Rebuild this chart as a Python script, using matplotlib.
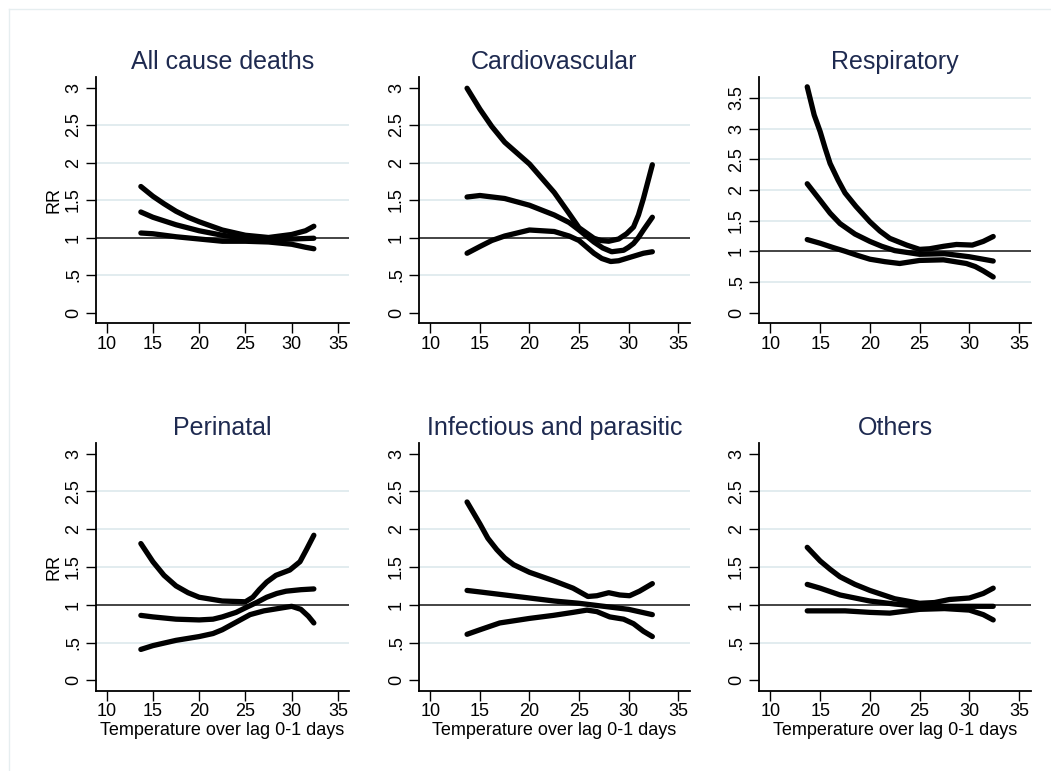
import matplotlib
matplotlib.use("Agg")
import matplotlib.pyplot as plt
from matplotlib.lines import Line2D

plt.rcParams["font.family"] = ["Liberation Sans", "DejaVu Sans"]

titles = ["All cause deaths", "Cardiovascular", "Respiratory",
          "Perinatal", "Infectious and parasitic", "Others"]

# each curve: (temperature knots, RR values)
# All cause deaths
all_up_x = [13.7, 15, 16.2, 17.5, 18.8, 20, 22.5, 25, 27.5, 30, 31.5, 32.4]
all_up_y = [1.68, 1.55, 1.45, 1.35, 1.27, 1.21, 1.10, 1.03, 1.00, 1.04, 1.09, 1.15]
all_mid_x = [13.7, 15, 17.5, 20, 22.5, 25, 27.5, 30, 32.4]
all_mid_y = [1.34, 1.27, 1.17, 1.09, 1.03, 0.99, 0.97, 0.98, 0.99]
all_lo_x = [13.7, 15, 17.5, 20, 22.5, 25, 27.5, 30, 31.5, 32.4]
all_lo_y = [1.06, 1.05, 1.01, 0.98, 0.95, 0.95, 0.94, 0.91, 0.87, 0.85]

# Cardiovascular
cv_up_x = [13.7, 15, 16.2, 17.5, 20, 22.5, 24, 25, 26.5, 27.2, 28, 29, 29.8, 30.5, 31, 31.5, 32.4]
cv_up_y = [2.99, 2.71, 2.48, 2.27, 1.98, 1.60, 1.32, 1.13, 0.99, 0.96, 0.95, 0.98, 1.05, 1.14, 1.30, 1.52, 1.97]
cv_mid_x = [13.7, 15, 17.5, 20, 22.5, 24, 25, 26.5, 27.4, 28.3, 29.5, 30, 30.5, 31, 31.5, 32.4]
cv_mid_y = [1.54, 1.56, 1.52, 1.43, 1.30, 1.20, 1.10, 0.94, 0.86, 0.81, 0.83, 0.87, 0.92, 1.00, 1.10, 1.27]
cv_lo_x = [13.7, 15, 16.2, 17.5, 20, 22.5, 24, 25, 26.5, 27.3, 28.2, 29, 29.5, 30.5, 31.5, 32.4]
cv_lo_y = [0.79, 0.88, 0.96, 1.02, 1.10, 1.08, 1.02, 0.96, 0.79, 0.72, 0.68, 0.69, 0.71, 0.75, 0.79, 0.81]

# Respiratory
resp_up_x = [13.7, 14.4, 15, 15.5, 16, 16.8, 17.5, 18.6, 20, 21, 22, 23.7, 25, 26, 27.4, 28.7, 30.3, 31.4, 32.4]
resp_up_y = [3.68, 3.22, 2.95, 2.68, 2.43, 2.16, 1.95, 1.73, 1.48, 1.33, 1.21, 1.10, 1.03, 1.04, 1.08, 1.11, 1.10, 1.16, 1.24]
resp_mid_x = [13.7, 15, 16, 17, 18.5, 20, 21.2, 22.5, 25, 27.5, 30, 32.4]
resp_mid_y = [2.10, 1.83, 1.62, 1.45, 1.28, 1.16, 1.08, 1.01, 0.95, 0.96, 0.91, 0.84]
resp_lo_x = [13.7, 15, 16.3, 17.5, 18.8, 20, 21.5, 23, 25, 27.4, 29.7, 30.6, 31.4, 32.4]
resp_lo_y = [1.19, 1.13, 1.06, 1.00, 0.93, 0.87, 0.83, 0.80, 0.85, 0.86, 0.80, 0.75, 0.68, 0.58]

# Perinatal
peri_up_x = [13.7, 15, 16.2, 17.5, 18.8, 20, 22.5, 25, 25.8, 26.5, 27.3, 28.3, 29.8, 30.9, 31.6, 32.4]
peri_up_y = [1.81, 1.57, 1.39, 1.25, 1.16, 1.10, 1.05, 1.04, 1.10, 1.20, 1.30, 1.39, 1.46, 1.57, 1.73, 1.92]
peri_mid_x = [13.7, 15, 17.5, 20, 21.5, 22.5, 24, 25, 26.2, 27.3, 28.4, 29.4, 31, 32.4]
peri_mid_y = [0.86, 0.84, 0.81, 0.80, 0.81, 0.84, 0.90, 0.96, 1.03, 1.10, 1.15, 1.18, 1.20, 1.21]
peri_lo_x = [13.7, 15, 17.5, 20, 21.5, 22.5, 24, 25.5, 27, 29, 30, 31, 31.8, 32.4]
peri_lo_y = [0.41, 0.46, 0.53, 0.58, 0.62, 0.67, 0.77, 0.87, 0.92, 0.96, 0.98, 0.94, 0.85, 0.76]

# Infectious and parasitic
inf_up_x = [13.7, 15, 15.8, 16.7, 17.5, 18.4, 20, 22.4, 24.4, 25.9, 26.8, 28, 29.1, 30.1, 31.1, 32.4]
inf_up_y = [2.36, 2.07, 1.88, 1.73, 1.62, 1.53, 1.43, 1.32, 1.22, 1.11, 1.12, 1.16, 1.13, 1.12, 1.18, 1.28]
inf_mid_x = [13.7, 15, 17.5, 20, 22.5, 25, 27.5, 30, 32.4]
inf_mid_y = [1.19, 1.17, 1.13, 1.09, 1.05, 1.02, 0.98, 0.94, 0.87]
inf_lo_x = [13.7, 15, 17, 20, 22.4, 24.4, 25.8, 26.8, 28.1, 29.5, 30.5, 31.5, 32.4]
inf_lo_y = [0.61, 0.67, 0.76, 0.82, 0.86, 0.90, 0.93, 0.91, 0.84, 0.81, 0.75, 0.65, 0.58]

# Others
oth_up_x = [13.7, 15, 16, 17, 18.5, 20, 22.5, 25, 26.5, 28, 30, 31.4, 32.4]
oth_up_y = [1.76, 1.58, 1.47, 1.37, 1.27, 1.19, 1.08, 1.02, 1.03, 1.07, 1.09, 1.15, 1.22]
oth_mid_x = [13.7, 15, 17, 20, 22.5, 25, 27.5, 30, 32.4]
oth_mid_y = [1.27, 1.22, 1.13, 1.05, 1.01, 0.98, 0.98, 0.98, 0.98]
oth_lo_x = [13.7, 15, 17.5, 20, 22, 25, 27.5, 30, 31.4, 32.4]
oth_lo_y = [0.92, 0.92, 0.92, 0.90, 0.89, 0.94, 0.95, 0.93, 0.87, 0.80]

curves = [
    [(all_up_x, all_up_y), (all_mid_x, all_mid_y), (all_lo_x, all_lo_y)],
    [(cv_up_x, cv_up_y), (cv_mid_x, cv_mid_y), (cv_lo_x, cv_lo_y)],
    [(resp_up_x, resp_up_y), (resp_mid_x, resp_mid_y), (resp_lo_x, resp_lo_y)],
    [(peri_up_x, peri_up_y), (peri_mid_x, peri_mid_y), (peri_lo_x, peri_lo_y)],
    [(inf_up_x, inf_up_y), (inf_mid_x, inf_mid_y), (inf_lo_x, inf_lo_y)],
    [(oth_up_x, oth_up_y), (oth_mid_x, oth_mid_y), (oth_lo_x, oth_lo_y)],
]

x_ticks = [10, 15, 20, 25, 30, 35]
y_ticks_std = [0, 0.5, 1, 1.5, 2, 2.5, 3]
y_ticks_resp = [0, 0.5, 1, 1.5, 2, 2.5, 3, 3.5]


def fmt(v):
    s = ("%g" % v)
    return s[1:] if s.startswith("0.") else s


W, H = 1051, 771
fig = plt.figure(figsize=(W / 100, H / 100), dpi=100)

# axes boxes in pixels: left, right, top, bottom
boxes = [(96, 349, 77, 323), (419, 690, 77, 323), (759, 1031, 77, 323),
         (96, 349, 443, 691), (419, 690, 443, 691), (759, 1031, 443, 691)]

# faint outer graph-region border
fig.add_artist(Line2D([9 / W, 1], [1 - 9 / H, 1 - 9 / H], color="#e6eef0", lw=1))
fig.add_artist(Line2D([9 / W, 9 / W], [0, 1 - 9 / H], color="#e6eef0", lw=1))

title_color = "#1e2a50"
grid_color = "#dde9ec"

for i, (l, r, t, b) in enumerate(boxes):
    ax = fig.add_axes([l / W, 1 - b / H, (r - l) / W, (b - t) / H])
    yt = y_ticks_resp if i == 2 else y_ticks_std
    ax.set_xlim(8.85, 36.2)
    if i == 2:
        ax.set_ylim(-0.17, 3.84)
    else:
        ax.set_ylim(-0.14, 3.14)

    for v in yt:
        if v == 0 or v == 1 or (i != 2 and v == 3):
            continue
        ax.axhline(v, color=grid_color, lw=1.2, zorder=0)
    ax.axhline(1, color="#111111", lw=1.1, zorder=1)

    for xs, ys in curves[i]:
        ax.plot(xs, ys, color="black", lw=3.8, solid_capstyle="round",
                solid_joinstyle="round", zorder=3)

    ax.set_xticks(x_ticks)
    ax.set_xticklabels([str(v) for v in x_ticks])
    ax.set_yticks(yt)
    ax.set_yticklabels([fmt(v) for v in yt], rotation=90, va="center")
    ax.tick_params(axis="both", labelsize=13, length=7, width=1, colors="black", pad=3)
    ax.tick_params(axis="x", pad=2)

    for s in ["top", "right"]:
        ax.spines[s].set_visible(False)
    for s in ["left", "bottom"]:
        ax.spines[s].set_linewidth(1.3)
        ax.spines[s].set_color("black")

    ax.set_title(titles[i], fontsize=18, color=title_color, pad=6)
    if i % 3 == 0:
        ax.set_ylabel("RR", fontsize=13, labelpad=2)
    if i >= 3:
        ax.set_xlabel("Temperature over lag 0-1 days", fontsize=13, labelpad=1)

fig.savefig("out.png", dpi=100)
